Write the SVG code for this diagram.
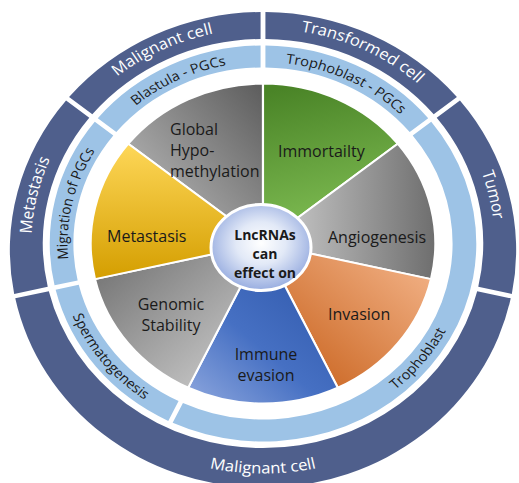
<svg xmlns="http://www.w3.org/2000/svg" width="519" height="483" viewBox="0 0 519 483">
<style>
.dk{fill:#4f5f8c}
.lt{fill:#9dc3e6}
.sl{stroke:#ffffff;stroke-width:2;stroke-linejoin:round}
.wt{font-family:"Open Sans","Liberation Sans",sans-serif;font-size:15.5px;fill:#ffffff}
.bt{font-family:"Open Sans","Liberation Sans",sans-serif;font-size:13.5px;fill:#1a1a1a}
.lab{font-family:"Open Sans","Liberation Sans",sans-serif;font-size:16px;fill:#1a1a1a}
.ctr{font-family:"Open Sans","Liberation Sans",sans-serif;font-size:14px;font-weight:bold;fill:#1a1a1a;text-anchor:middle}
</style>
<defs>
<linearGradient id="gGlob" x1="1" y1="0" x2="0" y2="1"><stop offset="0" stop-color="#5c5c5c"/><stop offset="1" stop-color="#c6c6c6"/></linearGradient>
<linearGradient id="gImm" x1="0.3" y1="0" x2="0.5" y2="1"><stop offset="0" stop-color="#4a8427"/><stop offset="1" stop-color="#84c257"/></linearGradient>
<linearGradient id="gAng" x1="0" y1="0.5" x2="1" y2="0.5"><stop offset="0" stop-color="#d2d2d2"/><stop offset="1" stop-color="#6e6e6e"/></linearGradient>
<linearGradient id="gInv" x1="1" y1="0" x2="0" y2="1"><stop offset="0" stop-color="#f6b990"/><stop offset="1" stop-color="#c45a12"/></linearGradient>
<linearGradient id="gImu" x1="0.9" y1="0" x2="0.1" y2="1"><stop offset="0" stop-color="#2c54a6"/><stop offset="0.6" stop-color="#4670c3"/><stop offset="1" stop-color="#86a1db"/></linearGradient>
<linearGradient id="gGen" x1="0" y1="0" x2="1" y2="1"><stop offset="0" stop-color="#6c6c6c"/><stop offset="1" stop-color="#d4d4d4"/></linearGradient>
<linearGradient id="gMet" x1="0.5" y1="0" x2="0.5" y2="1"><stop offset="0" stop-color="#fed758"/><stop offset="1" stop-color="#d49e00"/></linearGradient>
<radialGradient id="gCtr" cx="0.5" cy="0.45" r="0.55"><stop offset="0" stop-color="#ffffff"/><stop offset="0.45" stop-color="#e2e9f7"/><stop offset="1" stop-color="#98ade0"/></radialGradient>
<path id="tpMal1" d="M-168.10,-134.05 A215,215 0 0 1 0,-215"/>
<path id="tpTrans" d="M0,-215 A215,215 0 0 1 168.10,-134.05"/>
<path id="tpTumor" d="M168.10,-134.05 A215,215 0 0 1 209.61,47.84"/>
<path id="tpMeta" d="M-209.61,47.84 A215,215 0 0 1 -168.10,-134.05"/>
<path id="tpMal2" d="M-224.23,51.18 A230,230 0 0 0 224.23,51.18"/>
<path id="tpBlast" d="M-141.90,-113.16 A181.5,181.5 0 0 1 0,-181.5"/>
<path id="tpTpgc" d="M0,-181.5 A181.5,181.5 0 0 1 141.90,-113.16"/>
<path id="tpMig" d="M-176.95,40.39 A181.5,181.5 0 0 1 -141.90,-113.16"/>
<path id="tpTroph" d="M-82.87,172.09 A191,191 0 0 0 149.33,-119.09"/>
<path id="tpSperm" d="M-186.21,42.50 A191,191 0 0 0 -82.87,172.09"/>
</defs>
<rect width="519" height="483" fill="#ffffff"/>
<g transform="translate(263,243.5) scale(1.077,1)">
  <g id="outer-malignant-cell-top">
    <path class="dk" d="M-180.07,-146.48 A235,238 0 0 1 -2.25,-231.5 L-2.25,-204.5 A204.5,204.5 0 0 0 -158.48,-129.26 Z"/>
    <text class="wt"><textPath href="#tpMal1" startOffset="50%" text-anchor="middle">Malignant cell</textPath></text>
  </g>
  <g id="outer-transformed-cell">
    <path class="dk" d="M2.25,-231.5 A235,238 0 0 1 180.07,-146.48 L158.48,-129.26 A204.5,204.5 0 0 0 2.25,-204.5 Z"/>
    <text class="wt"><textPath href="#tpTrans" startOffset="50%" text-anchor="middle">Transformed cell</textPath></text>
  </g>
  <g id="outer-tumor">
    <path class="dk" d="M182.87,-142.96 A235,238 0 0 1 231.04,50.43 L199.87,43.32 A204.5,204.5 0 0 0 161.29,-125.74 Z"/>
    <text class="wt"><textPath href="#tpTumor" startOffset="50%" text-anchor="middle">Tumor</textPath></text>
  </g>
  <g id="outer-malignant-cell-bottom">
    <path class="dk" d="M230.04,54.81 A235,238 0 0 1 -230.04,54.81 L-198.87,47.70 A204.5,204.5 0 0 0 198.87,47.70 Z"/>
    <text class="wt"><textPath href="#tpMal2" startOffset="50%" text-anchor="middle">Malignant cell</textPath></text>
  </g>
  <g id="outer-metastasis">
    <path class="dk" d="M-231.04,50.43 A235,238 0 0 1 -182.87,-142.96 L-161.29,-125.74 A204.5,204.5 0 0 0 -199.87,43.32 Z"/>
    <text class="wt"><textPath href="#tpMeta" startOffset="50%" text-anchor="middle">Metastasis</textPath></text>
  </g>
  <g id="ring-blastula-pgcs">
    <path class="lt" d="M-153.40,-125.21 A198,198 0 0 1 -2.25,-198 L-2.25,-176 A176,176 0 0 0 -136.20,-111.49 Z"/>
    <text class="bt"><textPath href="#tpBlast" startOffset="50%" text-anchor="middle">Blastula - PGCs</textPath></text>
  </g>
  <g id="ring-trophoblast-pgcs">
    <path class="lt" d="M2.25,-198 A198,198 0 0 1 153.40,-125.21 L136.20,-111.49 A176,176 0 0 0 2.25,-176 Z"/>
    <text class="bt"><textPath href="#tpTpgc" startOffset="50%" text-anchor="middle">Trophoblast - PGCs</textPath></text>
  </g>
  <g id="ring-trophoblast">
    <path class="lt" d="M156.21,-121.69 A198,198 0 0 1 -83.88,179.37 L-74.33,159.55 A176,176 0 0 0 139.00,-107.97 Z"/>
    <text class="bt"><textPath href="#tpTroph" startOffset="50%" text-anchor="middle">Trophoblast</textPath></text>
  </g>
  <g id="ring-spermatogenesis">
    <path class="lt" d="M-87.94,177.41 A198,198 0 0 1 -192.54,46.25 L-171.09,41.35 A176,176 0 0 0 -78.39,157.59 Z"/>
    <text class="bt"><textPath href="#tpSperm" startOffset="50%" text-anchor="middle">Spermatogenesis</textPath></text>
  </g>
  <g id="ring-migration-pgcs">
    <path class="lt" d="M-193.54,41.87 A198,198 0 0 1 -156.21,-121.69 L-139.00,-107.97 A176,176 0 0 0 -172.09,36.97 Z"/>
    <text class="bt"><textPath href="#tpMig" startOffset="50%" text-anchor="middle">Migration of PGCs</textPath></text>
  </g>
  <g id="slices">
    <path id="slice-global" class="sl" fill="url(#gGlob)" d="M0,0 L-125.09,-99.76 A160,160 0 0 1 0,-160 Z"/>
    <path id="slice-immortality" class="sl" fill="url(#gImm)" d="M0,0 L0,-160 A160,160 0 0 1 125.09,-99.76 Z"/>
    <path id="slice-angiogenesis" class="sl" fill="url(#gAng)" d="M0,0 L125.09,-99.76 A160,160 0 0 1 155.99,35.60 Z"/>
    <path id="slice-invasion" class="sl" fill="url(#gInv)" d="M0,0 L155.99,35.60 A160,160 0 0 1 69.42,144.16 Z"/>
    <path id="slice-immune" class="sl" fill="url(#gImu)" d="M0,0 L69.42,144.16 A160,160 0 0 1 -69.42,144.16 Z"/>
    <path id="slice-genomic" class="sl" fill="url(#gGen)" d="M0,0 L-69.42,144.16 A160,160 0 0 1 -155.99,35.60 Z"/>
    <path id="slice-metastasis" class="sl" fill="url(#gMet)" d="M0,0 L-155.99,35.60 A160,160 0 0 1 -125.09,-99.76 Z"/>
  </g>
</g>
<g id="label-global"><text class="lab" x="170" y="135">Global</text><text class="lab" x="170" y="156">Hypo-</text><text class="lab" x="170" y="177">methylation</text></g>
<g id="label-immortality"><text class="lab" x="278" y="157">Immortailty</text></g>
<g id="label-angiogenesis"><text class="lab" x="328" y="243">Angiogenesis</text></g>
<g id="label-invasion"><text class="lab" x="328" y="320">Invasion</text></g>
<g id="label-immune"><text class="lab" x="266" y="360" text-anchor="middle">Immune</text><text class="lab" x="266" y="381" text-anchor="middle">evasion</text></g>
<g id="label-genomic"><text class="lab" x="171" y="310" text-anchor="middle">Genomic</text><text class="lab" x="171" y="331" text-anchor="middle">Stability</text></g>
<g id="label-metastasis"><text class="lab" x="107" y="242">Metastasis</text></g>
<g id="center">
  <ellipse cx="261" cy="247.5" rx="50" ry="43" fill="url(#gCtr)" stroke="#ffffff" stroke-width="3"/>
  <text class="ctr" x="265" y="240">LncRNAs</text>
  <text class="ctr" x="265" y="259">can</text>
  <text class="ctr" x="265" y="278">effect on</text>
</g>
</svg>
